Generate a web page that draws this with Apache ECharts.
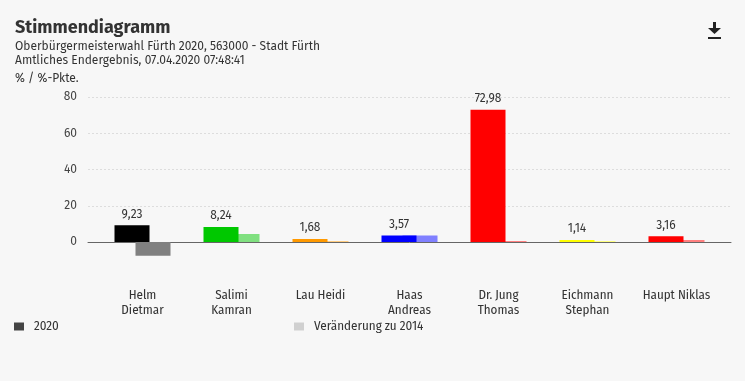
<!DOCTYPE html>
<html><head><meta charset="utf-8">
<script src="https://cdn.jsdelivr.net/npm/echarts@6/dist/echarts.min.js"></script>
<style>html,body{margin:0;padding:0;background:#f7f7f7}#c{width:745px;height:381px}</style>
</head><body><div id="c"></div>
<script>
const categories = ['Helm\nDietmar','Salimi\nKamran','Lau Heidi','Haas\nAndreas','Dr. Jung\nThomas','Eichmann\nStephan','Haupt Niklas'];
const values2020 = [9.23, 8.24, 1.68, 3.57, 72.98, 1.14, 3.16];
const change2014 = [-7.56, 4.4, 0.5, 3.57, 0.6, 0.5, 1.1];
const colors2020 = ['#000000','#00c800','#ff9900','#0000ff','#ff0000','#ffff00','#ff0000'];
const colorsChange = ['#808080','#80e080','#ffcc80','#8080ff','#ff8080','#ffff80','#ff8080'];
const yTicks = [0, 20, 40, 60, 80];
const font = '"Fira Sans","Open Sans","Noto Sans",sans-serif';
const condFont = '"Liberation Sans Narrow","Fira Sans Condensed","Open Sans",sans-serif';

const chart = echarts.init(document.getElementById('c'));
chart.setOption({
  backgroundColor: '#f7f7f7',
  animation: false,
  graphic: [
    {type:'text', left:15, top:19, style:{text:'Stimmendiagramm', font:'bold 18px '+font, fill:'#333'}},
    {type:'text', left:15, top:41, style:{text:'Oberbürgermeisterwahl Fürth 2020, 563000 - Stadt Fürth', font:'12px '+font, fill:'#333'}},
    {type:'text', left:15, top:55, style:{text:'Amtliches Endergebnis, 07.04.2020 07:48:41', font:'12px '+font, fill:'#333'}},
    {type:'text', left:15, top:73, style:{text:'% / %-Pkte.', font:'12px '+font, fill:'#333'}},
    {type:'group', left:708, top:22, children:[
      {type:'rect', shape:{x:5, y:0, width:3, height:7}, style:{fill:'#222'}},
      {type:'polygon', shape:{points:[[0,6],[13,6],[6.5,12]]}, style:{fill:'#222'}},
      {type:'rect', shape:{x:0, y:15, width:13, height:2}, style:{fill:'#222'}}
    ]}
  ],
  legend: [
    {left:9, top:315, itemWidth:10, itemHeight:8, itemGap:10, data:['2020'],
     textStyle:{fontFamily:condFont, fontSize:13, color:'#333', padding:[0,0,0,5]}, icon:'rect'},
    {left:289, top:315, itemWidth:10, itemHeight:8, data:['Veränderung zu 2014'],
     textStyle:{fontFamily:condFont, fontSize:13, color:'#333', padding:[0,0,0,5]}, icon:'rect'}
  ],
  grid: [
    {left:88, right:14, top:97, height:145},
    {left:98, right:24, top:97, height:145}
  ],
  xAxis: [
    {gridIndex:0, type:'value', min:0, max:1, axisLine:{show:true, onZero:false, lineStyle:{color:'#666', width:1}},
     axisTick:{show:false}, axisLabel:{show:false}, splitLine:{show:false}},
    {gridIndex:1, type:'category', data:categories, axisLine:{show:false}, axisTick:{show:false},
     axisLabel:{margin:46, fontFamily:condFont, fontSize:13, color:'#333', lineHeight:15, interval:0}}
  ],
  yAxis: [
    {gridIndex:0, type:'value', min:yTicks[0], max:yTicks[yTicks.length-1], interval:20,
     axisLine:{show:false}, axisTick:{show:false},
     axisLabel:{margin:11, fontFamily:font, fontSize:12, color:'#444'},
     splitLine:{lineStyle:{color:'#dddddd', type:[2,2]}}},
    {gridIndex:1, type:'value', min:0, max:80, show:false}
  ],
  series: [
    {name:'2020', type:'bar', xAxisIndex:1, yAxisIndex:1, barWidth:35, barGap:'-40%', clip:false, z:3,
     itemStyle:{color:'#444'},
     data: values2020.map((v,i)=>({value:v, itemStyle:{color:colors2020[i]}})),
     label:{show:true, position:'top', distance:5, fontFamily:font, fontSize:12, color:'#333',
       formatter:p=>p.value.toFixed(2).replace('.',',')}},
    {name:'Veränderung zu 2014', type:'bar', xAxisIndex:1, yAxisIndex:1, barWidth:35, clip:false, z:2,
     itemStyle:{color:'#d0d0d0'},
     data: change2014.map((v,i)=>({value:v, itemStyle:{color:colorsChange[i]}}))}
  ]
});
</script></body></html>
